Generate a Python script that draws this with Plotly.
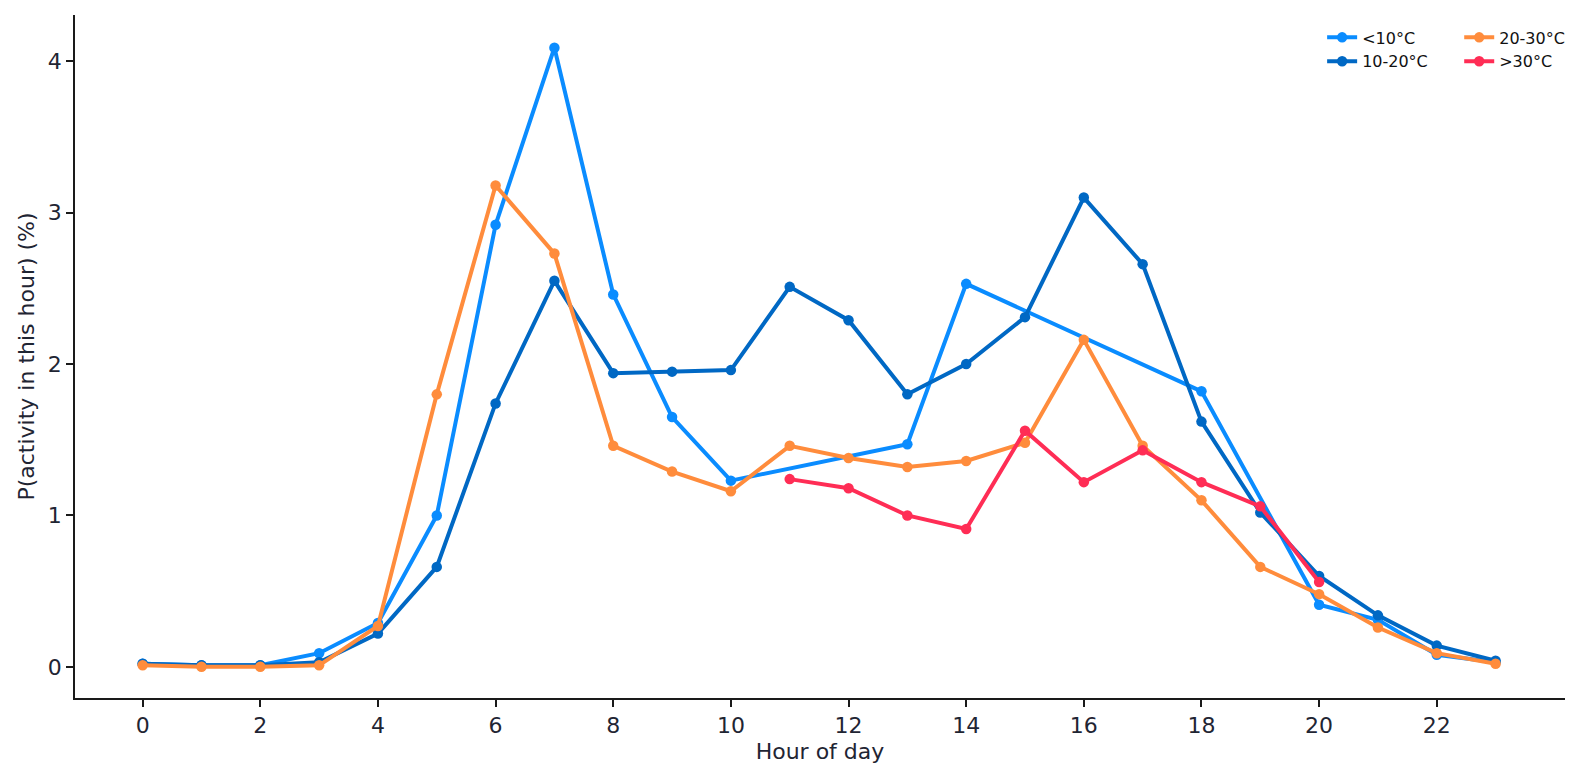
import plotly.graph_objects as go

# hourly activity share (%) by temperature band
hours_cold = [0, 1, 2, 3, 4, 5, 6, 7, 8, 9, 10, 13, 14, 18, 20, 21, 22, 23]
cold = [0.02, 0.01, 0.01, 0.09, 0.29, 1.00, 2.92, 4.09, 2.46, 1.65, 1.23,
        1.47, 2.53, 1.82, 0.41, 0.31, 0.08, 0.03]

hours_mild = list(range(24))
mild = [0.02, 0.01, 0.01, 0.03, 0.22, 0.66, 1.74, 2.55, 1.94, 1.95, 1.96, 2.51,
        2.29, 1.80, 2.00, 2.31, 3.10, 2.66, 1.62, 1.02, 0.60, 0.34, 0.14, 0.04]

hours_warm = list(range(24))
warm = [0.01, 0.00, 0.00, 0.01, 0.27, 1.80, 3.18, 2.73, 1.46, 1.29, 1.16, 1.46,
        1.38, 1.32, 1.36, 1.48, 2.16, 1.46, 1.10, 0.66, 0.48, 0.26, 0.09, 0.02]

hours_hot = [11, 12, 13, 14, 15, 16, 17, 18, 19, 20]
hot = [1.24, 1.18, 1.00, 0.91, 1.56, 1.22, 1.43, 1.22, 1.06, 0.56]

# (name, x, y, colour, legend column)
series = [
    ("<10°C", hours_cold, cold, "#0a8cff", "legend"),
    ("10-20°C", hours_mild, mild, "#0068c4", "legend"),
    ("20-30°C", hours_warm, warm, "#ff8c3c", "legend2"),
    (">30°C", hours_hot, hot, "#ff2d55", "legend2"),
]

TEXT = "#1f2533"
FONT = "DejaVu Sans"

fig = go.Figure()
for name, xs, ys, color, leg in series:
    fig.add_trace(go.Scatter(
        x=xs, y=ys, name=name, mode="lines+markers",
        line=dict(color=color, width=4),
        marker=dict(color=color, size=10.5),
        legend=leg,
    ))

leg_style = dict(
    y=0.992, yanchor="top", xanchor="left",
    font=dict(size=16, color="#111", family=FONT),
    bgcolor="rgba(0,0,0,0)", itemwidth=30, tracegroupgap=0,
)

fig.update_layout(
    width=1577, height=765,
    paper_bgcolor="white", plot_bgcolor="white",
    margin=dict(l=66.5, r=20.4, t=7, b=75, autoexpand=False),
    font=dict(family=FONT, color=TEXT, size=22),
    legend=dict(x=0.837, **leg_style),
    legend2=dict(x=0.929, **leg_style),
    xaxis=dict(
        range=[-1.15, 24.18], tickmode="array",
        tickvals=list(range(0, 24, 2)),
        showline=True, linecolor="#1a1a1a", linewidth=1.6,
        ticks="outside", ticklen=7, tickcolor="#1a1a1a", tickwidth=1.6,
        showgrid=False, zeroline=False, mirror=False,
        title=dict(text="Hour of day", font=dict(size=22), standoff=6),
    ),
    yaxis=dict(
        range=[-0.206, 4.306], tickvals=[0, 1, 2, 3, 4],
        showline=True, linecolor="#1a1a1a", linewidth=1.6,
        ticks="outside", ticklen=7, tickcolor="#1a1a1a", tickwidth=1.6,
        showgrid=False, zeroline=False,
        title=dict(text="P(activity in this hour) (%)", font=dict(size=22), standoff=7),
    ),
)

fig.write_html("out.html")
